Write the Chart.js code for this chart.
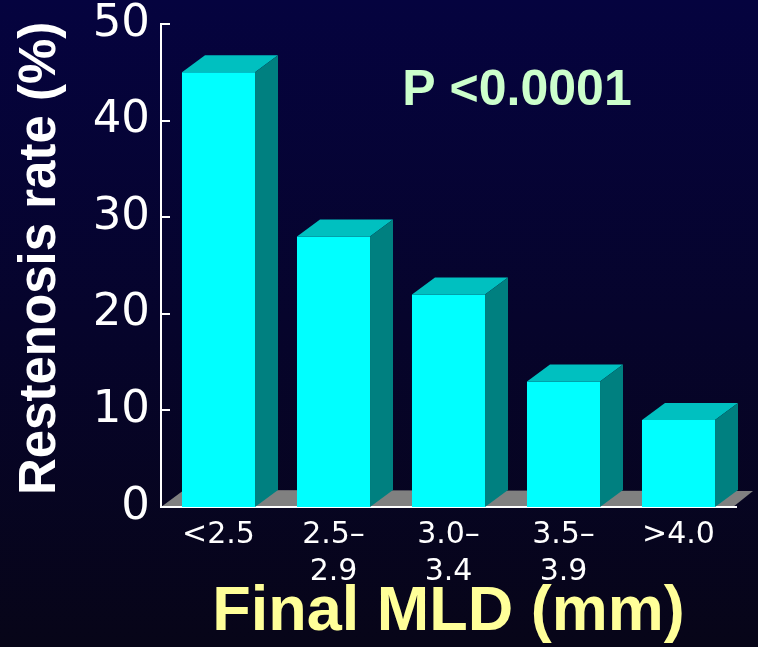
<!DOCTYPE html>
<html>
<head>
<meta charset="utf-8">
<script src="https://cdn.jsdelivr.net/npm/chart.js@4/dist/chart.umd.min.js"></script>
<style>
  html, body { margin: 0; padding: 0; background: #05042c; }
  #wrap { width: 758px; height: 647px; }
</style>
</head>
<body>
<div id="wrap"><canvas id="myChart" width="758" height="647"></canvas></div>
<script>
// MLD groups and restenosis rates (%)
const groups = ["<2.5", ["2.5–", "2.9"], ["3.0–", "3.4"], ["3.5–", "3.9"], ">4.0"];
const rates = [45, 28, 22, 13, 9];
const yTicks = [0, 10, 20, 30, 40, 50];
const pText = "P <0.0001";

// Box colours
const FRONT = "#00FFFF";
const TOP = "#00C0C0";
const SIDE = "#008080";
const FLOOR = "#808080";
const DX = 23, DY = -17; // depth offset of the 3D boxes

const slidePlugin = {
    id: "slide",
    beforeDraw(chart) {
        const { ctx, width, height, chartArea } = chart;
        // dark navy backdrop
        const g = ctx.createLinearGradient(0, 0, 0, height);
        g.addColorStop(0, "#05033f");
        g.addColorStop(1, "#070518");
        ctx.save();
        ctx.fillStyle = g;
        ctx.fillRect(0, 0, width, height);
        // grey floor under the boxes
        const l = chartArea.left, r = chartArea.right - 3, b = chartArea.bottom;
        ctx.fillStyle = FLOOR;
        ctx.beginPath();
        ctx.moveTo(l, b);
        ctx.lineTo(r, b);
        ctx.lineTo(r + DX - 3, b + DY + 1);
        ctx.lineTo(l + DX, b + DY);
        ctx.closePath();
        ctx.fill();
        ctx.restore();
    },
    afterDatasetsDraw(chart) {
        const { ctx } = chart;
        const meta = chart.getDatasetMeta(0);
        ctx.save();
        meta.data.forEach((bar) => {
            const x1 = bar.x - bar.width / 2;
            const x2 = bar.x + bar.width / 2;
            const top = bar.y, base = bar.base;
            // top face
            ctx.fillStyle = TOP;
            ctx.beginPath();
            ctx.moveTo(x1, top);
            ctx.lineTo(x1 + DX, top + DY);
            ctx.lineTo(x2 + DX, top + DY);
            ctx.lineTo(x2, top);
            ctx.closePath();
            ctx.fill();
            // side face
            ctx.fillStyle = SIDE;
            ctx.beginPath();
            ctx.moveTo(x2, top);
            ctx.lineTo(x2 + DX, top + DY);
            ctx.lineTo(x2 + DX, base + DY);
            ctx.lineTo(x2, base);
            ctx.closePath();
            ctx.fill();
        });
        ctx.restore();
    },
    afterDraw(chart) {
        const { ctx, chartArea } = chart;
        const y = chart.scales.y;
        ctx.save();
        // inward tick marks on the value axis
        ctx.strokeStyle = "#FFFFFF";
        ctx.lineWidth = 2;
        yTicks.forEach((v) => {
            const py = Math.round(y.getPixelForValue(v));
            ctx.beginPath();
            ctx.moveTo(chartArea.left, py);
            ctx.lineTo(chartArea.left + 9, py);
            ctx.stroke();
        });
        // significance note
        ctx.fillStyle = "#CCFFCC";
        ctx.font = "bold 50px 'Liberation Sans', Arial, sans-serif";
        ctx.textAlign = "center";
        ctx.textBaseline = "middle";
        ctx.fillText(pText, 517, 91);
        ctx.restore();
    },
};

const config = {
    type: "bar",
    data: {
        labels: groups,
        datasets: [
            {
                data: rates,
                backgroundColor: FRONT,
                borderWidth: 0,
                categoryPercentage: 1,
                barPercentage: 0.635,
            },
        ],
    },
    options: {
        responsive: false,
        animation: false,
        events: [],
        layout: { padding: { top: 24, right: 22, left: 0, bottom: 0 } },
        plugins: {
            legend: { display: false },
            tooltip: { enabled: false },
        },
        scales: {
            x: {
                grid: { display: false, drawTicks: false },
                border: { display: true, color: "#FFFFFF", width: 2 },
                ticks: {
                    color: "#FFFFFF",
                    font: { family: "'DejaVu Sans', sans-serif", size: 30, lineHeight: 1.23 },
                    padding: 10,
                    maxRotation: 0,
                    autoSkip: false,
                },
                title: {
                    display: true,
                    text: "Final MLD (mm)",
                    color: "#FFFF99",
                    font: { family: "'Liberation Sans', Arial, sans-serif", size: 63, weight: "bold", lineHeight: 1.2 },
                    padding: { top: 0, bottom: -3 },
                },
                afterFit(scale) {
                    scale.height = 140;
                    scale.paddingLeft = 0;
                    scale.paddingRight = 0;
                },
            },
            y: {
                min: 0,
                max: 50,
                grid: { display: false, drawTicks: false },
                border: { display: true, color: "#FFFFFF", width: 2 },
                ticks: {
                    stepSize: 10,
                    color: "#FFFFFF",
                    font: { family: "'DejaVu Sans', sans-serif", size: 45 },
                    padding: 11,
                },
                title: {
                    display: true,
                    text: " Restenosis rate (%)",
                    color: "#FFFFFF",
                    font: { family: "'Liberation Sans', Arial, sans-serif", size: 51, weight: "bold", lineHeight: 1.2 },
                    padding: { top: 10, bottom: 0 },
                },
                afterFit(scale) {
                    scale.width = 161;
                    scale.paddingTop = 0;
                    scale.paddingBottom = 0;
                },
            },
        },
    },
    plugins: [slidePlugin],
};

window.onload = function () {
    const ctx = document.getElementById("myChart").getContext("2d");
    window.graph = new Chart(ctx, config);
};
</script>
</body>
</html>
